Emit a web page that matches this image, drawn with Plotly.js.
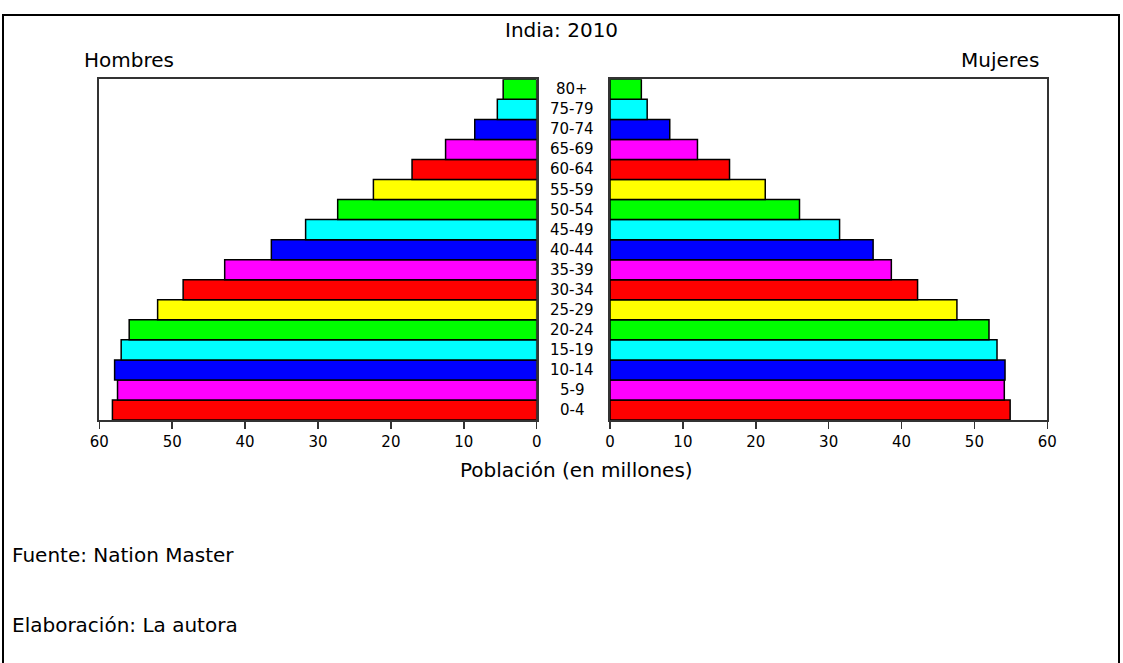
<!DOCTYPE html>
<html>
<head>
<meta charset="utf-8">
<script src="https://cdn.plot.ly/plotly-3.0.1.min.js"></script>
<style>
html,body{margin:0;padding:0;background:#fff;}
#chart{width:1123px;height:663px;}
</style>
</head>
<body>
<div id="chart"></div>
<script>
const ageGroups = ["0-4","5-9","10-14","15-19","20-24","25-29","30-34","35-39","40-44","45-49","50-54","55-59","60-64","65-69","70-74","75-79","80+"];
const hombres = [58.2,57.5,57.9,57.0,55.9,52.0,48.5,42.8,36.4,31.7,27.3,22.4,17.1,12.5,8.5,5.4,4.6];
const mujeres = [54.9,54.1,54.2,53.1,52.0,47.6,42.2,38.6,36.1,31.5,26.0,21.3,16.4,12.0,8.2,5.1,4.3];
const barColors = ["#ff0000","#ff00ff","#0000ff","#00ffff","#00ff00","#ffff00","#ff0000","#ff00ff","#0000ff","#00ffff","#00ff00","#ffff00","#ff0000","#ff00ff","#0000ff","#00ffff","#00ff00"];
const tickVals = [0,10,20,30,40,50,60];

const W = 1123, H = 663;
const px = v => v / W;
const py = v => 1 - v / H;

const FONT = "DejaVu Sans";
const lineCol = "#333333";

const traces = [
  {type:"bar", orientation:"h", x:hombres, y:ageGroups, xaxis:"x", yaxis:"y",
   marker:{color:barColors, line:{color:"#000", width:1.5}}, hoverinfo:"x+y"},
  {type:"bar", orientation:"h", x:mujeres, y:ageGroups, xaxis:"x2", yaxis:"y2",
   marker:{color:barColors, line:{color:"#000", width:1.5}}, hoverinfo:"x+y"}
];

const axX = {
  tickvals:tickVals, ticks:"outside", ticklen:7, tickwidth:1.5, tickcolor:lineCol,
  showline:true, linecolor:lineCol, linewidth:2, mirror:true, showgrid:false, zeroline:false,
  tickfont:{family:FONT, size:15, color:"#000"}, fixedrange:true
};
const axY = {
  type:"category", categoryorder:"array", categoryarray:ageGroups, range:[-0.5, ageGroups.length-0.5],
  showline:true, linecolor:lineCol, linewidth:2, mirror:true, showgrid:false, zeroline:false,
  showticklabels:false, ticks:"", fixedrange:true
};

const ageAnnots = ageGroups.map(a => ({
  text:a, x:px(572), xref:"paper", y:a, yref:"y", showarrow:false,
  xanchor:"center", yanchor:"middle", font:{family:FONT, size:15, color:"#000"}
}));

const layout = {
  width:W, height:H,
  margin:{l:0, r:0, t:0, b:0},
  paper_bgcolor:"#fff", plot_bgcolor:"#fff",
  showlegend:false, bargap:0,
  xaxis:Object.assign({}, axX, {domain:[px(99.3), px(536.7)], range:[60,0], anchor:"y"}),
  yaxis:Object.assign({}, axY, {domain:[py(420), py(79.3)], anchor:"x"}),
  xaxis2:Object.assign({}, axX, {domain:[px(610), px(1047.3)], range:[0,60], anchor:"y2"}),
  yaxis2:Object.assign({}, axY, {domain:[py(420), py(79.3)], anchor:"x2"}),
  annotations: ageAnnots.concat([
    {text:"India: 2010", x:px(561), y:py(30), xref:"paper", yref:"paper", showarrow:false, xanchor:"center", yanchor:"middle", font:{family:FONT, size:20, color:"#000"}},
    {text:"Hombres", x:px(82), y:py(60), xref:"paper", yref:"paper", showarrow:false, xanchor:"left", yanchor:"middle", font:{family:FONT, size:20, color:"#000"}},
    {text:"Mujeres", x:px(1041), y:py(60), xref:"paper", yref:"paper", showarrow:false, xanchor:"right", yanchor:"middle", font:{family:FONT, size:20, color:"#000"}},
    {text:"Población (en millones)", x:px(576), y:py(470), xref:"paper", yref:"paper", showarrow:false, xanchor:"center", yanchor:"middle", font:{family:FONT, size:20, color:"#000"}},
    {text:"Fuente: Nation Master", x:px(10), y:py(555), xref:"paper", yref:"paper", showarrow:false, xanchor:"left", yanchor:"middle", font:{family:FONT, size:20, color:"#000"}},
    {text:"Elaboración: La autora", x:px(10), y:py(625), xref:"paper", yref:"paper", showarrow:false, xanchor:"left", yanchor:"middle", font:{family:FONT, size:20, color:"#000"}}
  ]),
  shapes:[
    {type:"rect", xref:"paper", yref:"paper", x0:px(3), x1:px(1119), y0:-0.2, y1:py(15), line:{color:"#000", width:2}, fillcolor:"rgba(0,0,0,0)"}
  ]
};

Plotly.newPlot("chart", traces, layout, {displayModeBar:false, staticPlot:true});
</script>
</body>
</html>
